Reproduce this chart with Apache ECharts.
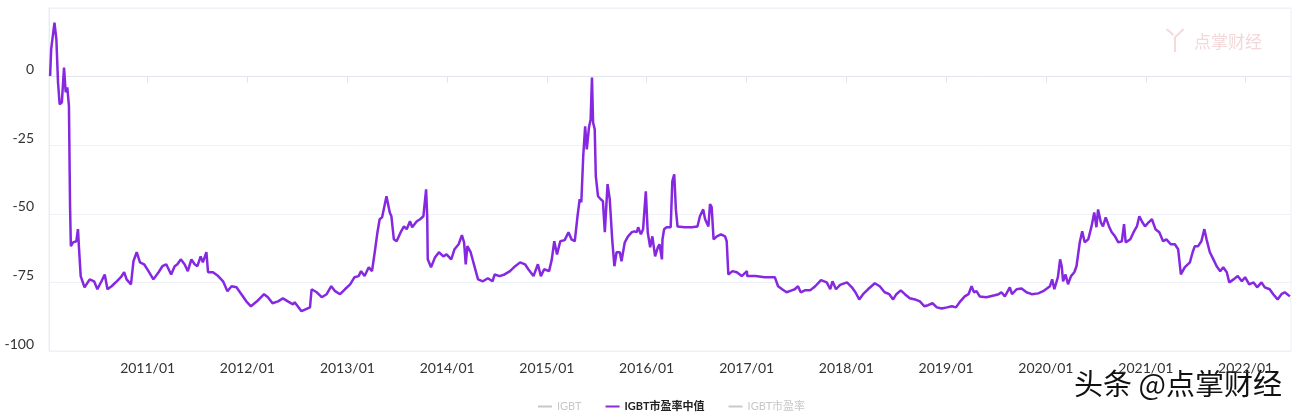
<!DOCTYPE html>
<html><head><meta charset="utf-8">
<script src="https://cdn.jsdelivr.net/npm/echarts@6/dist/echarts.min.js"></script>
<style>html,body{margin:0;padding:0;background:#fff}#c{width:1300px;height:420px}</style>
</head><body><div id="c"></div>
<script>
const dates = [
'2010-01-09','2010-01-13','2010-01-25','2010-02-01','2010-02-07','2010-02-13','2010-02-21','2010-03-01','2010-03-07','2010-03-13',
'2010-03-18','2010-03-19','2010-03-23','2010-03-26','2010-04-03','2010-04-15','2010-04-21','2010-04-25','2010-05-01','2010-05-15',
'2010-06-03','2010-06-19','2010-07-01','2010-07-16','2010-07-28','2010-08-07','2010-08-22','2010-09-10','2010-09-25','2010-10-07',
'2010-10-16','2010-11-01','2010-11-10','2010-11-22','2010-12-04','2010-12-19','2011-01-04','2011-01-22','2011-02-10','2011-02-24',
'2011-03-10','2011-03-28','2011-04-10','2011-04-20','2011-05-02','2011-05-16','2011-05-28','2011-06-10','2011-06-22','2011-07-02',
'2011-07-14','2011-07-22','2011-08-04','2011-08-10','2011-08-28','2011-09-16','2011-10-04','2011-10-20','2011-11-04','2011-11-22',
'2011-12-10','2011-12-28','2012-01-14','2012-02-05','2012-03-02','2012-03-16','2012-04-02','2012-04-22','2012-05-10','2012-05-28',
'2012-06-16','2012-06-22','2012-07-17','2012-08-17','2012-08-23','2012-09-11','2012-09-29','2012-10-17','2012-11-03','2012-11-17',
'2012-12-05','2012-12-23','2013-01-11','2013-01-27','2013-02-11','2013-02-20','2013-03-05','2013-03-20','2013-04-01','2013-04-11',
'2013-04-21','2013-04-29','2013-05-08','2013-05-24','2013-06-05','2013-06-11','2013-06-20','2013-06-30','2013-07-15','2013-07-27',
'2013-08-06','2013-08-18','2013-08-26','2013-09-12','2013-09-24','2013-10-06','2013-10-16','2013-10-20','2013-10-22','2013-11-03',
'2013-11-18','2013-12-02','2013-12-18','2013-12-30','2014-01-16','2014-01-28','2014-02-12','2014-02-24','2014-03-04','2014-03-10',
'2014-03-16','2014-03-28','2014-04-12','2014-04-24','2014-05-12','2014-05-30','2014-06-16','2014-06-24','2014-07-12','2014-07-30',
'2014-08-19','2014-09-07','2014-09-25','2014-10-13','2014-10-25','2014-11-13','2014-11-29','2014-12-10','2014-12-22','2015-01-09',
'2015-01-19','2015-01-28','2015-02-07','2015-02-19','2015-03-07','2015-03-21','2015-04-01','2015-04-13','2015-04-23','2015-05-01',
'2015-05-07','2015-05-14','2015-05-21','2015-05-27','2015-06-04','2015-06-10','2015-06-15','2015-06-19','2015-06-25','2015-06-29',
'2015-07-07','2015-07-17','2015-07-25','2015-08-01','2015-08-11','2015-08-19','2015-08-28','2015-09-05','2015-09-13','2015-09-25',
'2015-10-01','2015-10-13','2015-10-25','2015-11-08','2015-11-17','2015-11-26','2015-12-01','2015-12-11','2015-12-19','2015-12-29',
'2016-01-05','2016-01-14','2016-01-22','2016-02-01','2016-02-11','2016-02-17','2016-02-26','2016-02-28','2016-03-05','2016-03-14',
'2016-03-29','2016-04-04','2016-04-11','2016-04-17','2016-04-23','2016-05-20','2016-06-14','2016-07-05','2016-07-14','2016-07-26',
'2016-08-02','2016-08-14','2016-08-20','2016-08-26','2016-09-02','2016-09-14','2016-09-29','2016-10-14','2016-10-20','2016-10-26',
'2016-11-10','2016-11-26','2016-12-14','2017-01-02','2017-01-03','2017-02-02','2017-03-08','2017-04-14','2017-04-26','2017-05-11',
'2017-05-27','2017-06-15','2017-06-26','2017-07-08','2017-07-18','2017-08-02','2017-08-21','2017-09-09','2017-09-30','2017-10-21',
'2017-11-03','2017-11-11','2017-11-24','2017-12-09','2018-01-03','2018-01-21','2018-02-03','2018-02-17','2018-03-03','2018-03-21',
'2018-04-15','2018-05-03','2018-05-21','2018-06-07','2018-06-21','2018-07-03','2018-07-19','2018-08-03','2018-08-21','2018-09-09',
'2018-09-27','2018-10-13','2018-10-27','2018-11-12','2018-11-28','2018-12-16','2019-01-04','2019-01-22','2019-02-06','2019-02-22',
'2019-03-10','2019-03-24','2019-04-04','2019-04-13','2019-04-22','2019-05-04','2019-05-28','2019-06-28','2019-07-12','2019-07-22',
'2019-08-04','2019-08-22','2019-08-30','2019-09-16','2019-10-04','2019-10-22','2019-11-10','2019-12-04','2019-12-22','2020-01-16',
'2020-01-24','2020-02-01','2020-02-14','2020-02-22','2020-02-28','2020-03-04','2020-03-13','2020-03-22','2020-04-02','2020-04-14',
'2020-04-22','2020-05-04','2020-05-13','2020-05-22','2020-06-04','2020-06-16','2020-06-26','2020-07-04','2020-07-10','2020-07-20',
'2020-07-28','2020-08-07','2020-08-19','2020-08-29','2020-09-10','2020-09-22','2020-10-05','2020-10-13','2020-10-19','2020-11-05',
'2020-11-17','2020-11-29','2020-12-08','2020-12-19','2020-12-29','2021-01-11','2021-01-23','2021-02-05','2021-02-19','2021-03-05',
'2021-03-17','2021-04-02','2021-04-17','2021-04-29','2021-05-09','2021-05-23','2021-06-11','2021-06-21','2021-06-29','2021-07-11',
'2021-07-23','2021-08-03','2021-08-11','2021-08-23','2021-09-05','2021-09-17','2021-09-30','2021-10-11','2021-10-24','2021-11-02',
'2021-11-18','2021-12-03','2021-12-18','2021-12-30','2022-01-14','2022-01-30','2022-02-12','2022-02-28','2022-03-12','2022-03-30',
'2022-04-12','2022-04-28','2022-05-12','2022-05-24','2022-06-12'
];
const medianPE = [
0.2,10,19.7,13.6,-2.1,-10.1,-9.4,3.3,-5.7,-3.9,
-4.6,-10.8,-47.2,-61.8,-60.4,-60,-55.6,-62.9,-72.7,-76.8,
-73.9,-74.6,-77.5,-74.6,-72.1,-77.5,-76.4,-74.6,-73.1,-71.3,
-73.9,-75.7,-67.3,-64,-67.7,-68.4,-70.9,-73.9,-71.3,-69.1,
-68.4,-72.1,-69.1,-68.4,-66.6,-68.4,-70.9,-66.6,-68.4,-69.1,
-65.5,-67.7,-64,-71.3,-71.3,-72.7,-74.6,-78.2,-76.4,-76.8,
-79.3,-81.9,-83.7,-81.9,-79.3,-80.4,-82.6,-81.9,-80.8,-81.9,
-83,-82.2,-85.5,-84.1,-77.5,-78.6,-80.4,-79.3,-76.4,-78.2,
-79.3,-77.5,-75.7,-73.1,-72.7,-70.9,-72.7,-69.5,-70.9,-64,
-56.7,-52,-51.3,-43.6,-49.5,-50.9,-59.3,-60,-56.7,-54.6,
-55.6,-52.7,-54.9,-52.7,-52,-50.9,-41.1,-50.9,-66.6,-69.5,
-65.8,-64,-65.5,-64.8,-66.6,-62.9,-61.1,-57.8,-60.4,-68.4,
-61.8,-64,-69.5,-73.9,-74.6,-73.5,-74.6,-72.1,-72.7,-72.1,
-70.9,-69.1,-67.7,-68.4,-70.2,-72.7,-68.4,-72.7,-70.2,-70.9,
-66.6,-60,-64.8,-60,-59.6,-56.7,-59.3,-60,-50.9,-44.7,
-45.8,-29,-18.1,-26.5,-18.5,-15.6,-0.3,-16.7,-19.2,-36.3,
-43.6,-44.7,-45.4,-56.7,-39.2,-44.7,-59.3,-69.1,-64,-64,
-67.3,-60.4,-58.2,-56.7,-56.4,-56.7,-54.9,-57.5,-55.6,-41.8,
-56.7,-62.2,-58.2,-65.5,-62.2,-61.1,-66.6,-59.3,-55.6,-54.9,
-54.9,-38.2,-35.6,-48.4,-54.6,-54.9,-54.9,-54.6,-50.9,-48.4,
-52,-54.6,-46.5,-47.6,-59.3,-58.2,-57.5,-58.2,-60,-72.1,
-70.9,-71.3,-72.7,-70.9,-72.7,-72.7,-73.1,-73.1,-76.4,-77.5,
-78.6,-77.9,-77.5,-76.4,-78.6,-77.9,-77.9,-76.4,-74.2,-75,
-77.5,-74.6,-77.5,-75.9,-75,-76.8,-78.6,-81.2,-79.3,-77.5,
-75.3,-76.4,-78.6,-79.3,-81.2,-79.3,-77.9,-79.3,-80.8,-81.2,
-81.9,-83.7,-83.3,-82.6,-84.1,-84.5,-84.1,-83.7,-84.1,-81.9,
-80.1,-79.3,-76.4,-78.6,-78.2,-80.1,-80.4,-79.7,-79.3,-78.6,
-80.1,-76.8,-79.3,-77.5,-77.2,-78.6,-79.3,-79,-78.2,-76.4,
-73.9,-77.5,-73.1,-66.6,-69.1,-74.6,-72.1,-75.7,-72.7,-71.3,
-69.1,-60.4,-56.4,-60.4,-59.3,-54.6,-49.5,-54.9,-48.4,-53.1,
-54.6,-51.3,-54.6,-56.7,-58.2,-60.4,-60,-53.8,-60.4,-59.3,
-56.7,-54.6,-50.9,-53.1,-54.6,-53.1,-52,-55.6,-56.7,-60,
-59.3,-61.1,-61.1,-62.9,-72.1,-69.5,-67.7,-64,-61.8,-61.8,
-60,-55.6,-59.3,-64,-66.6,-69.1,-70.9,-69.5,-71.3,-75,
-73.9,-72.7,-74.6,-73.1,-75.7,-75,-76.8,-75,-76.8,-77.5,
-79.3,-81.2,-79.3,-78.6,-80.1
];
const igbtValues = [];
const igbtPEValues = [];
const legendNames = ['IGBT', 'IGBT市盈率中值', 'IGBT市盈率'];
const yTickLabels = [-100, -75, -50, -25, 0];
const axisStart = '2010-01-05';
const axisEnd = '2022-06-16';

const chart = echarts.init(document.getElementById('c'));
const font = 'Lato, "Noto Sans CJK SC", sans-serif';
chart.setOption({
  animation: false,
  backgroundColor: '#fff',
  grid: { left: 49, right: 9, top: 8, bottom: 69, show: true, borderColor: '#eceff5', borderWidth: 1 },
  legend: {
    left: 533, bottom: 3, itemGap: 24, itemWidth: 14, itemHeight: 2, icon: 'rect',
    inactiveColor: '#c8c8c8',
    textStyle: { fontSize: 11, color: '#333', fontFamily: font },
    data: [
      { name: legendNames[0] },
      { name: legendNames[1], textStyle: { fontWeight: 'bold', color: '#222' } },
      { name: legendNames[2] }
    ],
    selected: { 'IGBT': false, 'IGBT市盈率': false }
  },
  xAxis: {
    type: 'time', min: axisStart, max: axisEnd,
    minInterval: 365 * 86400000, maxInterval: 366 * 86400000,
    axisLine: { lineStyle: { color: '#e3e6ee' } },
    axisTick: { show: true, length: 6, lineStyle: { color: '#dfe3ea' } },
    splitLine: { show: false },
    axisLabel: {
      color: '#333', fontSize: 14, margin: 10, fontFamily: font,
      showMinLabel: false, showMaxLabel: false,
      formatter: function (val) {
        const d = new Date(val);
        return (d.getMonth() === 0 && d.getDate() === 1) ? d.getFullYear() + '/01' : '';
      }
    }
  },
  yAxis: {
    type: 'value', min: -100, max: 25, interval: 25,
    axisLine: { show: true, lineStyle: { color: '#e8ebf2' } },
    axisTick: { show: false },
    splitLine: { lineStyle: { color: '#eef1f6' } },
    axisLabel: {
      color: '#333', fontSize: 14, margin: 15, fontFamily: font, verticalAlign: 'bottom',
      formatter: function (v) { return yTickLabels.indexOf(v) >= 0 ? String(v) : ''; }
    }
  },
  series: [
    { name: legendNames[0], type: 'line', showSymbol: false, data: igbtValues, itemStyle: { color: '#aaaaaa' } },
    {
      name: legendNames[1], type: 'line', showSymbol: false, symbol: 'none',
      data: dates.map((d, i) => [d, medianPE[i]]),
      itemStyle: { color: '#8a2be2' },
      lineStyle: { color: '#8528e0', width: 2.5 }
    },
    { name: legendNames[2], type: 'line', showSymbol: false, data: igbtPEValues, itemStyle: { color: '#aaaaaa' } }
  ],
  graphic: [
    { type: 'text', right: 38, top: 33, style: { text: '点掌财经', fontSize: 17, fill: '#f2d8d8', fontFamily: '"Noto Sans CJK SC", sans-serif' } },
    { type: 'text', left: 1162, top: 27, style: { text: '丫', fontSize: 26, fill: '#f4dada', fontFamily: '"Noto Sans CJK SC", sans-serif' } },
    { type: 'text', right: 17, top: 368, style: { text: '头条 @点掌财经', fontSize: 29, fill: '#111', stroke: '#fff', lineWidth: 2, fontFamily: '"Noto Sans CJK SC", sans-serif' } }
  ]
});
</script>
</body></html>
